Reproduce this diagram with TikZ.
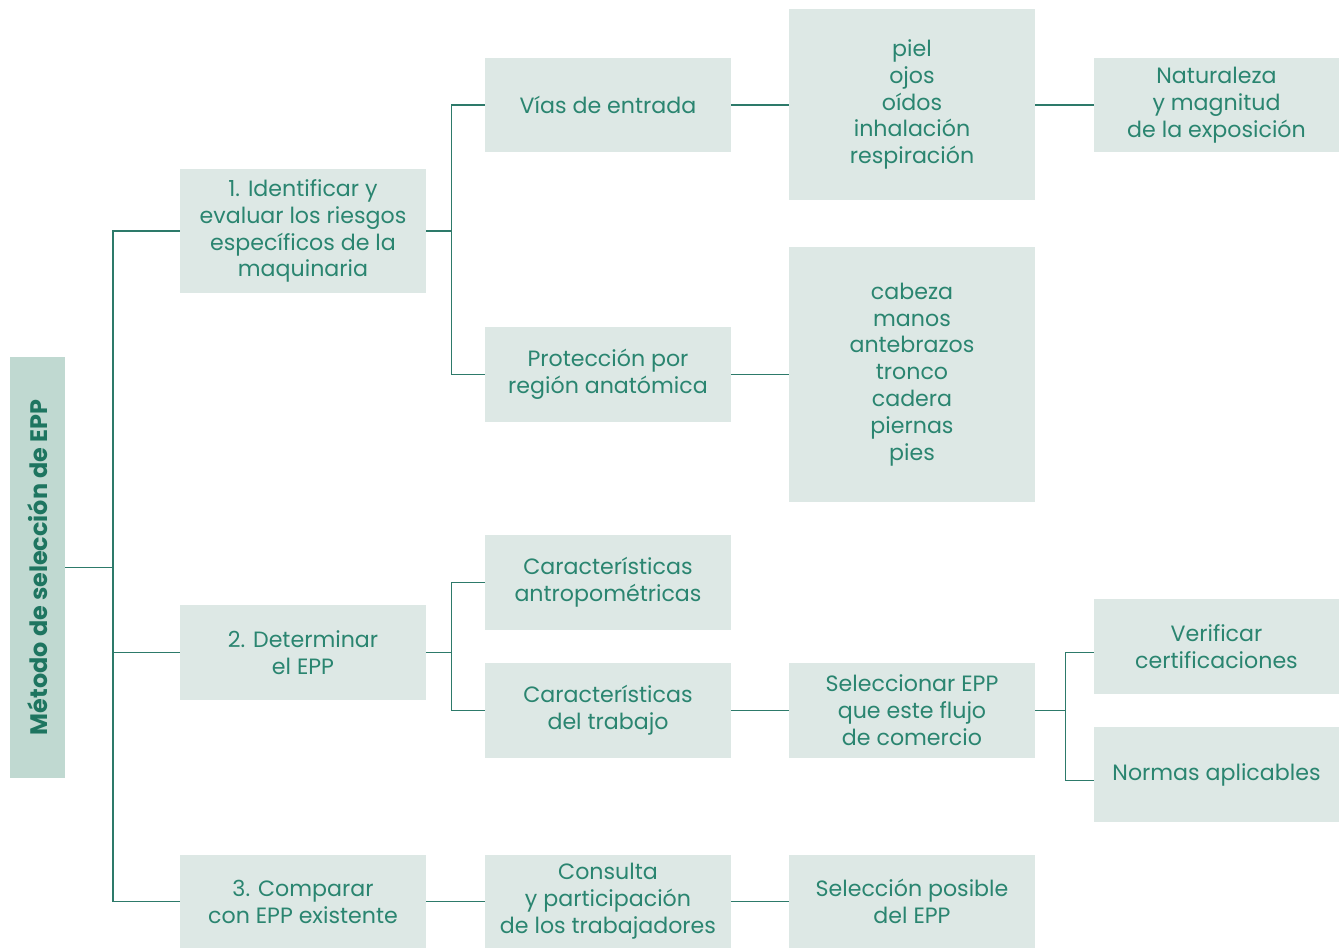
\documentclass[tikz,border=0pt]{standalone}
\usepackage{fontspec}
\setmainfont{Poppins}
\usetikzlibrary{positioning}

\definecolor{boxfill}{HTML}{DDE8E5}
\definecolor{titlefill}{HTML}{C0D9D1}
\definecolor{txt}{HTML}{2A8570}
\definecolor{titletxt}{HTML}{1E7560}
\definecolor{linecol}{HTML}{2D7A6A}

\tikzset{
  cell/.style={fill=boxfill, text=txt, align=center, inner sep=2pt,
    minimum width=4.92cm, minimum height=1.9cm,
    font=\fontsize{12.6}{15.3}\selectfont},
  link/.style={draw=linecol, line width=0.7pt}
}

\begin{document}
\begin{tikzpicture}[x=0.02cm, y=-0.02cm]
      \useasboundingbox (0,0) rectangle (1339,948);
      % title
      \node[fill=titlefill, text=titletxt, minimum width=1.1cm, minimum height=8.42cm,
        font=\fontsize{13.6}{15}\selectfont\bfseries] (title) at (37.5,567.5)
        {\rotatebox{90}{Método de selección de EPP}};
      % first column
      \node[cell, minimum height=2.48cm] (ident) at (303,231) {1. Identificar y\\evaluar los riesgos\\específicos de la\\maquinaria};
      \node[cell] (deter) at (303,652.5) {2. Determinar\\el EPP};
      \node[cell, minimum height=1.86cm] (compa) at (303,901.5) {3. Comparar\\con EPP existente};
      % second column
      \node[cell] (vias) at (608,105) {Vías de entrada};
      \node[cell] (region) at (608,374.5) {Protección por\\región anatómica};
      \node[cell] (antro) at (608,582.5) {Características\\antropométricas};
      \node[cell] (trabajo) at (608,710.5) {Características\\del trabajo};
      \node[cell, minimum height=1.86cm] (consulta) at (608,901.5) {Consulta\\y participación\\de los trabajadores};
      % third column
      \node[cell, minimum height=3.82cm] (organos) at (912,104.5) {piel\\ojos\\oídos\\inhalación\\respiración};
      \node[cell, minimum height=5.1cm] (partes) at (912,374.5) {cabeza\\manos\\antebrazos\\tronco\\cadera\\piernas\\pies};
      \node[cell] (selec) at (912,710.5) {Seleccionar EPP\\que este flujo\\de comercio};
      \node[cell, minimum height=1.86cm] (posible) at (912,901.5) {Selección posible\\del EPP};
      % fourth column
      \node[cell, minimum width=4.9cm] (natur) at (1216.5,105) {Naturaleza\\y magnitud\\de la exposición};
      \node[cell, minimum width=4.9cm] (verif) at (1216.5,646.5) {Verificar\\certificaciones};
      \node[cell, minimum width=4.9cm] (normas) at (1216.5,774.5) {Normas aplicables};
      % connectors
      \coordinate (trunk) at (113,567.5);
      \draw[link] (title.east) -- (trunk);
      \draw[link] (ident.west) -| (trunk) |- (compa.west);
      \draw[link] (trunk |- deter.west) -- (deter.west);
      \draw[link] (ident.east) -- ++(25,0) coordinate (j1);
      \draw[link] (vias.west) -| (j1) |- (region.west);
      \draw[link] (deter.east) -- ++(25,0) coordinate (j2);
      \draw[link] (antro.west) -| (j2) |- (trabajo.west);
      \draw[link] (vias.east) -- (organos.west |- vias.east);
      \draw[link] (organos.east |- natur.west) -- (natur.west);
      \draw[link] (region.east) -- (partes.west |- region.east);
      \draw[link] (trabajo.east) -- (selec.west);
      \draw[link] (selec.east) -- ++(30,0) coordinate (j3);
      \draw[link] ([yshift=-6*0.02cm]verif.west) -| (j3) |- ([yshift=-6*0.02cm]normas.west);
      \draw[link] (compa.east) -- (consulta.west);
      \draw[link] (consulta.east) -- (posible.west);
\end{tikzpicture}
\end{document}
